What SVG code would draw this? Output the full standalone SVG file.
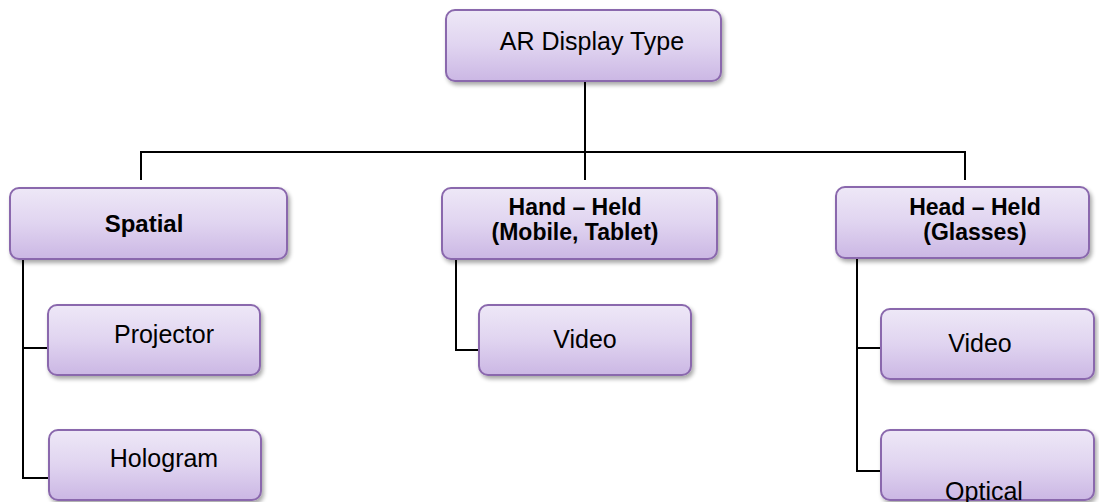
<svg xmlns="http://www.w3.org/2000/svg" width="1099" height="502" viewBox="0 0 1099 502">
  <defs>
    <linearGradient id="boxFill" x1="0" y1="0" x2="0" y2="1">
      <stop offset="0" stop-color="#eee8f7"/>
      <stop offset="0.5" stop-color="#e0d4f0"/>
      <stop offset="1" stop-color="#cbb7e4"/>
    </linearGradient>
    <filter id="shadow" x="-5%" y="-10%" width="112%" height="130%">
      <feGaussianBlur in="SourceAlpha" stdDeviation="2"/>
      <feOffset dx="1.5" dy="3" result="blur"/>
      <feComponentTransfer><feFuncA type="linear" slope="0.35"/></feComponentTransfer>
      <feMerge><feMergeNode/><feMergeNode in="SourceGraphic"/></feMerge>
    </filter>
  </defs>
  <style>
    .box { fill: url(#boxFill); stroke: #8a68ad; stroke-width: 2; filter: url(#shadow); }
    .lbl { font-family: "Liberation Sans", Arial, sans-serif; font-size: 25px; fill: #000; text-anchor: middle; }
    .bold { font-weight: bold; font-size: 23px; }
    .wire { fill: none; stroke: #000; stroke-width: 2; }
  </style>
  <rect width="1099" height="502" fill="#fff"/>

  <g id="connectors">
    <path class="wire" d="M585 81 V152 M141 180 V152 H965 V180 M585 152 V180"/>
    <path class="wire" d="M23 259 V478 H49 M23 348 H48"/>
    <path class="wire" d="M456 259 V350 H480"/>
    <path class="wire" d="M857 258 V471 H881 M857 348 H881"/>
  </g>

  <g id="root">
    <rect class="box" x="446" y="10" width="275" height="71" rx="9"/>
    <text class="lbl" x="592" y="50">AR Display Type</text>
  </g>

  <g id="spatial">
    <rect class="box" x="10" y="188" width="277" height="71" rx="9"/>
    <text class="lbl bold" x="144" y="232" style="font-size:24px">Spatial</text>
  </g>

  <g id="handheld">
    <rect class="box" x="442" y="188" width="275" height="71" rx="9"/>
    <text class="lbl bold" x="575" y="215">Hand – Held</text>
    <text class="lbl bold" x="575" y="240">(Mobile, Tablet)</text>
  </g>

  <g id="headheld">
    <rect class="box" x="836" y="187" width="253" height="71" rx="9"/>
    <text class="lbl bold" x="975" y="215">Head – Held</text>
    <text class="lbl bold" x="975" y="240">(Glasses)</text>
  </g>

  <g id="projector">
    <rect class="box" x="48" y="305" width="212" height="70" rx="9"/>
    <text class="lbl" x="164" y="343">Projector</text>
  </g>

  <g id="hologram">
    <rect class="box" x="49" y="430" width="212" height="70" rx="9"/>
    <text class="lbl" x="164" y="467">Hologram</text>
  </g>

  <g id="video-handheld">
    <rect class="box" x="479" y="305" width="212" height="70" rx="9"/>
    <text class="lbl" x="585" y="348">Video</text>
  </g>

  <g id="video-headheld">
    <rect class="box" x="881" y="309" width="213" height="70" rx="9"/>
    <text class="lbl" x="980" y="352">Video</text>
  </g>

  <g id="optical">
    <rect class="box" x="881" y="430" width="213" height="70" rx="9"/>
    <text class="lbl" x="984" y="500">Optical</text>
  </g>
</svg>
